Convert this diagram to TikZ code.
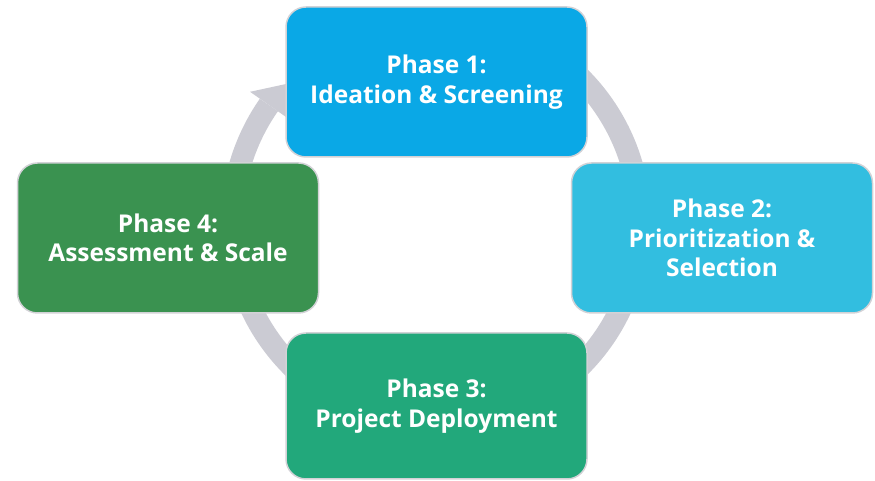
\documentclass[tikz,border=0pt]{standalone}
\usepackage{fontspec}
\setmainfont{Open Sans}
\definecolor{ringgray}{HTML}{CBCBD3}
\definecolor{boxedge}{HTML}{D2D2D6}
\definecolor{phaseone}{HTML}{0AA8E6}
\definecolor{phasetwo}{HTML}{32BEE0}
\definecolor{phasethree}{HTML}{22A87B}
\definecolor{phasefour}{HTML}{3A9250}
\begin{document}
\begin{tikzpicture}[x=1pt,y=1pt,
  phasebox/.style={draw=boxedge, line width=1.5pt, rounded corners=20pt,
    minimum width=301pt, minimum height=150pt, inner sep=0pt,
    text=white, align=center,
    font=\fontsize{24.5}{29.5}\selectfont\bfseries},
  ringarc/.style={draw=ringgray, line width=22pt},
  ringhead/.style={fill=ringgray}
]
\useasboundingbox (0,0) rectangle (875,481);
\coordinate (c) at (436,259);

% circular cycle arrow behind the phases
\begin{scope}[shift={(c)}]
  \draw[ringarc] (70:204) arc[start angle=70, end angle=-215, radius=204];
  \fill[ringhead] (145:227) -- (134:196) -- (145:177) -- cycle;
\end{scope}

% the four phases
\node[phasebox, fill=phaseone]   (p1) at (436.5,399) {Phase 1:\\Ideation \& Screening};
\node[phasebox, fill=phasetwo]   (p2) at (722,243)   {Phase 2:\\Prioritization \&\\Selection};
\node[phasebox, fill=phasethree, minimum height=146pt] (p3) at (436.5,75) {Phase 3:\\Project Deployment};
\node[phasebox, fill=phasefour]  (p4) at (168,243)   {Phase 4:\\Assessment \& Scale};
\end{tikzpicture}
\end{document}
